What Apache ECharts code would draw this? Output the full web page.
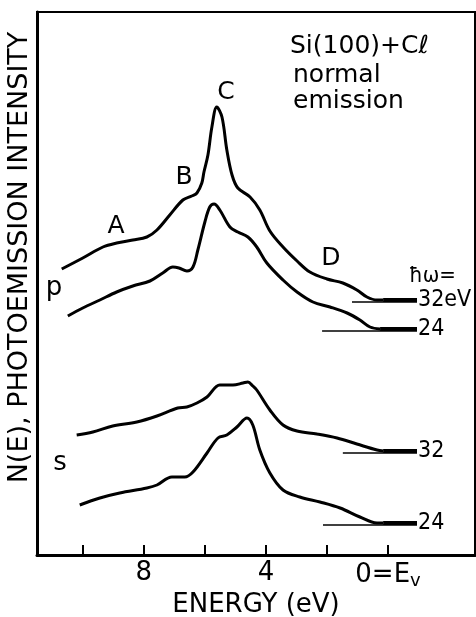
<!DOCTYPE html>
<html>
<head>
<meta charset="utf-8">
<script src="https://cdn.jsdelivr.net/npm/echarts@6/dist/echarts.min.js"></script>
<style>
  html, body { margin: 0; padding: 0; background: #fff; }
  #main { width: 476px; height: 617px; }
</style>
</head>
<body>
<div id="main"></div>
<script>
// binding energy (eV) and N(E) (arbitrary units, curves offset)
var pE32 = [10.69, 10.00, 9.34, 8.89, 8.36, 7.90, 7.57, 7.15, 6.72, 6.43, 6.26, 6.10, 6.03, 5.90, 5.77, 5.61, 5.44, 5.28, 5.11, 4.92, 4.52, 4.20, 3.87, 3.44, 2.98, 2.56, 2.00, 1.48, 1.02, 0.69, 0.36, 0.16];
var pI32 = [286, 297, 308, 312, 315, 318, 325, 340, 355, 359, 362, 372, 383, 400, 428, 448, 438, 405, 380, 367, 358, 345, 324, 308, 294, 283, 276, 272, 265, 258, 255, 255];

var pE24 = [10.49, 10.00, 9.44, 8.89, 8.36, 7.80, 7.38, 7.05, 6.85, 6.59, 6.39, 6.23, 6.00, 5.84, 5.70, 5.51, 5.18, 4.92, 4.59, 4.30, 3.97, 3.44, 2.98, 2.46, 1.90, 1.34, 0.92, 0.59, 0.26];
var pI24 = [239, 247, 255, 263, 269, 274, 282, 288, 287, 284, 288, 305, 333, 348, 351, 345, 328, 323, 318, 308, 292, 275, 263, 253, 248, 242, 235, 228, 226];

var sE32 = [10.20, 9.67, 9.02, 8.23, 7.57, 6.89, 6.59, 6.26, 5.93, 5.51, 5.08, 4.75, 4.59, 4.43, 4.30, 3.87, 3.44, 2.98, 2.33, 1.67, 1.02, 0.36, 0.16];
var sI32 = [120, 123, 129, 133, 139, 147, 148, 152, 158, 170, 170, 172, 173, 169, 165, 145, 130, 124, 121, 117, 111, 105, 104];

var sE24 = [10.10, 9.44, 8.79, 7.90, 7.57, 7.08, 6.66, 6.39, 5.93, 5.57, 5.28, 4.95, 4.62, 4.43, 4.20, 3.87, 3.44, 2.89, 2.23, 1.57, 0.92, 0.36, 0.16];
var sI24 = [50, 57, 62, 67, 70, 78, 78, 83, 102, 117, 120, 128, 137, 130, 105, 82, 65, 58, 53, 47, 38, 32, 32];

// where each thin base line starts, and where the thick tail ends
var baseStartE = [1.18, 2.16, 1.48, 2.13];
var tailEndE = -0.95;
var photonLabels = ['32eV', '24', '32', '24'];

var ticks = [10, 8, 6, 4, 2, 0];
var tickLabels = [8, 4, 0];

var curves = [[pE32, pI32], [pE24, pI24], [sE32, sI32], [sE24, sI24]];

var FONT = 'DejaVu Sans';
var series = [];
curves.forEach(function (c, k) {
    var E = c[0], I = c[1];
    var last = I[I.length - 1];
    series.push({
        type: 'line',
        data: E.map(function (e, i) { return [e, I[i]]; }),
        showSymbol: false,
        smooth: 0.35,
        lineStyle: { color: '#000', width: 3 }
    });
    // thin zero line
    series.push({
        type: 'line',
        data: [[baseStartE[k], last - 2], [tailEndE, last - 2]],
        showSymbol: false,
        lineStyle: { color: '#000', width: 1.4 }
    });
    // thick tail with photon energy label
    series.push({
        type: 'line',
        data: [[E[E.length - 1], last], [tailEndE, last]],
        showSymbol: false,
        lineStyle: { color: '#000', width: 4 },
        markPoint: {
            symbol: 'circle',
            symbolSize: 0,
            silent: true,
            data: [{ coord: [tailEndE, last] }],
            label: {
                show: true,
                position: 'right',
                distance: 1,
                formatter: photonLabels[k],
                color: '#000',
                fontFamily: 'DejaVu Sans Condensed',
                fontSize: 23
            }
        }
    });
});

var myChart = echarts.init(document.getElementById('main'));

var option = {
    backgroundColor: '#fff',
    animation: false,
    grid: {
        left: 37, right: 1, top: 12, bottom: 62,
        outerBoundsMode: 'none',
        containLabel: false,
        show: true, borderColor: '#000', borderWidth: 2
    },
    xAxis: {
        type: 'value',
        inverse: true,
        min: -2.85,
        max: 11.5,
        splitLine: { show: false },
        axisLine: { onZero: false, lineStyle: { color: '#000', width: 3 } },
        axisTick: {
            customValues: ticks,
            inside: true,
            length: 10,
            lineStyle: { color: '#000', width: 2 }
        },
        axisLabel: {
            customValues: tickLabels,
            margin: 5,
            color: '#000',
            fontFamily: FONT,
            fontSize: 26,
            formatter: function (v) { return v === 0 ? '0=E{sub|v}' : String(v); },
            rich: { sub: { fontSize: 18, fontFamily: FONT, padding: [12, 0, 0, 0], color: '#000' } }
        },
        name: 'ENERGY (eV)',
        nameLocation: 'middle',
        nameMoveOverlap: false,
        nameGap: 37,
        nameTextStyle: { color: '#000', fontFamily: FONT, fontSize: 26 }
    },
    yAxis: {
        type: 'value',
        min: 0,
        max: 543,
        splitLine: { show: false },
        axisTick: { show: false },
        axisLabel: { show: false },
        axisLine: { show: true, onZero: false, lineStyle: { color: '#000', width: 3 } },
        name: 'N(E), PHOTOEMISSION INTENSITY',
        nameLocation: 'middle',
        nameRotate: 90,
        nameGap: 4,
        nameTextStyle: { color: '#000', fontFamily: FONT, fontSize: 27, padding: [0, 0, 0, 52] }
    },
    graphic: [
        { type: 'text', left: 290, top: 34, style: { text: 'Si(100)+Cℓ', font: '25px "DejaVu Sans"', fill: '#000' } },
        { type: 'text', left: 293, top: 63, style: { text: 'normal', font: '25px "DejaVu Sans"', fill: '#000' } },
        { type: 'text', left: 293, top: 89, style: { text: 'emission', font: '25px "DejaVu Sans"', fill: '#000' } },
        { type: 'text', x: 226, y: 92, style: { text: 'C', font: '25px "DejaVu Sans"', fill: '#000', align: 'center', verticalAlign: 'middle' } },
        { type: 'text', x: 184, y: 177, style: { text: 'B', font: '25px "DejaVu Sans"', fill: '#000', align: 'center', verticalAlign: 'middle' } },
        { type: 'text', x: 116, y: 226, style: { text: 'A', font: '25px "DejaVu Sans"', fill: '#000', align: 'center', verticalAlign: 'middle' } },
        { type: 'text', x: 331, y: 258, style: { text: 'D', font: '25px "DejaVu Sans"', fill: '#000', align: 'center', verticalAlign: 'middle' } },
        { type: 'text', x: 54, y: 288, style: { text: 'p', font: '26px "DejaVu Sans"', fill: '#000', align: 'center', verticalAlign: 'middle' } },
        { type: 'text', x: 60, y: 463, style: { text: 's', font: '26px "DejaVu Sans"', fill: '#000', align: 'center', verticalAlign: 'middle' } },
        { type: 'text', x: 409, y: 276, style: { text: 'ħω=', font: '22px "DejaVu Sans Condensed"', fill: '#000', verticalAlign: 'middle' } }
    ],
    series: series
};

myChart.setOption(option);
</script>
</body>
</html>
